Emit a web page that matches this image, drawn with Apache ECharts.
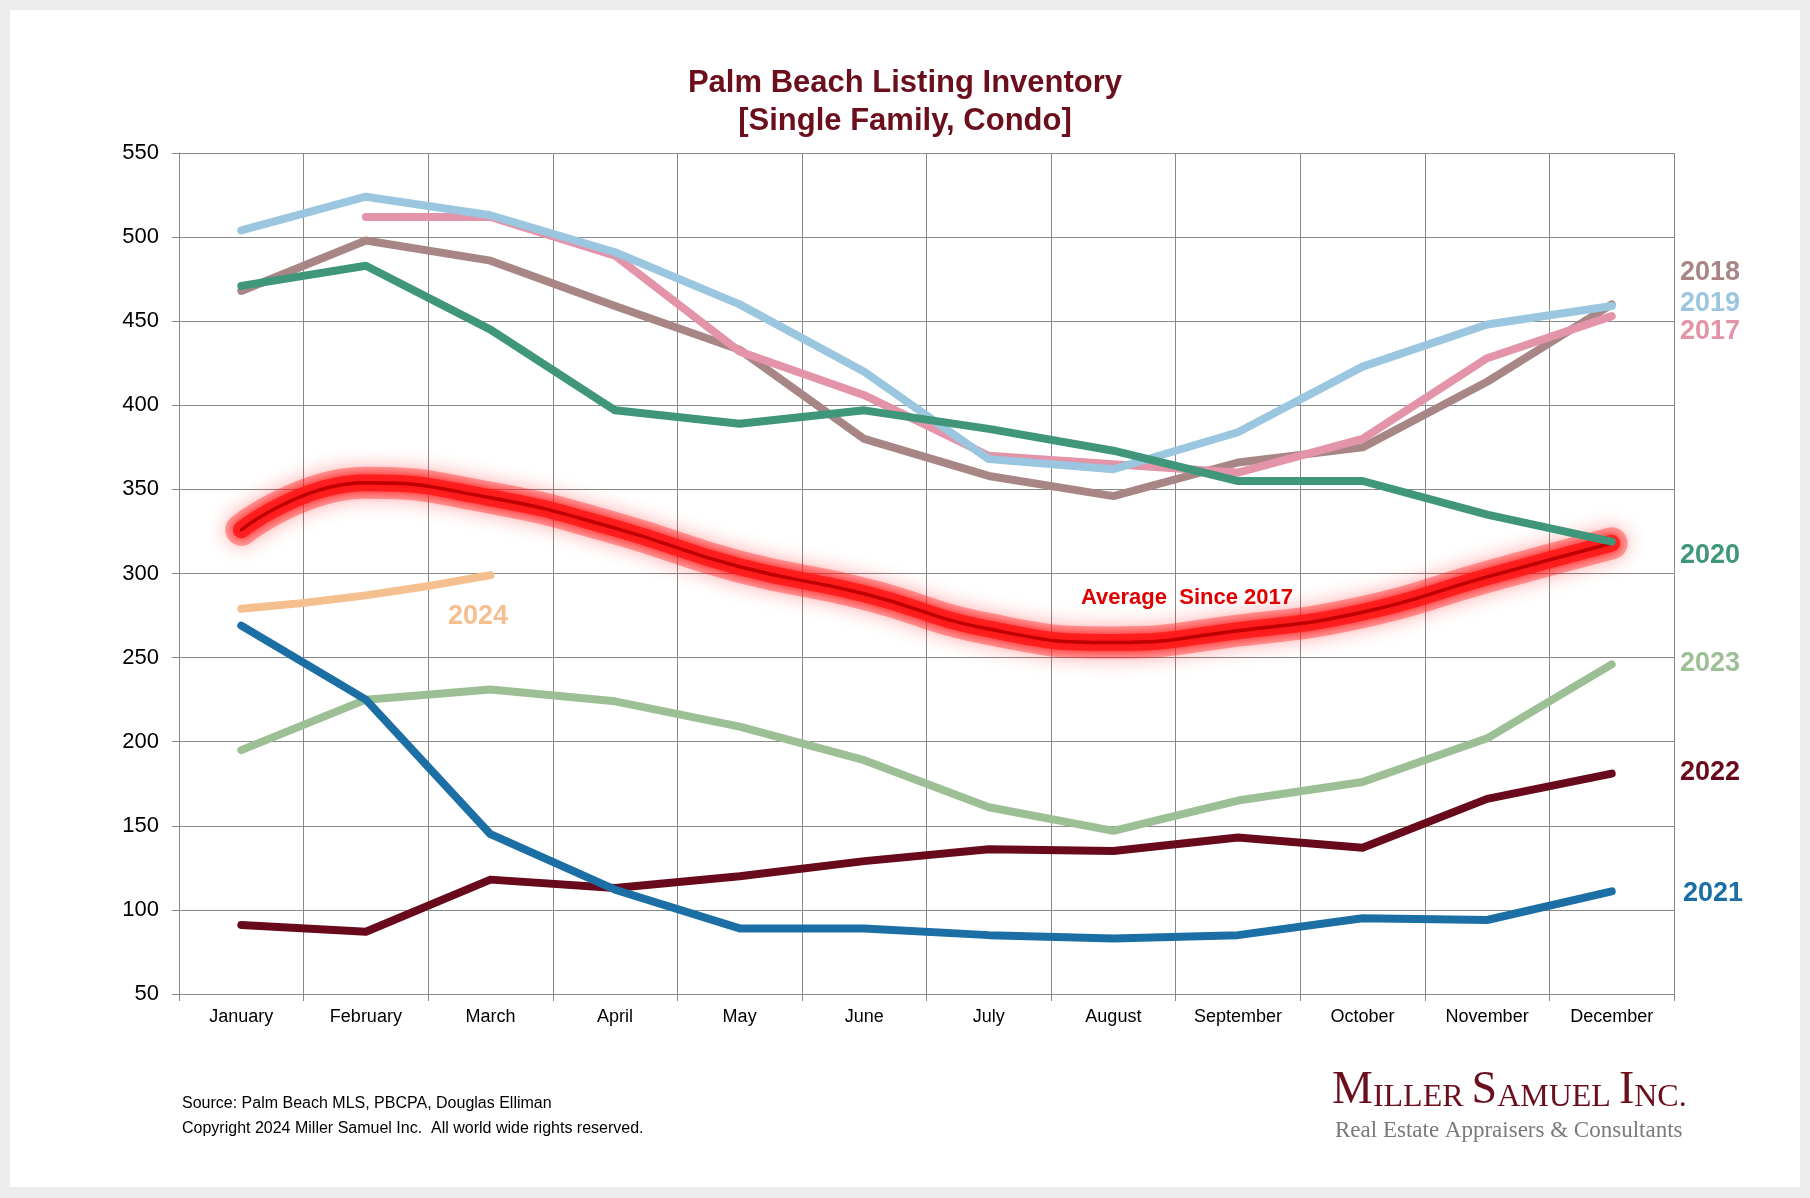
<!DOCTYPE html>
<html>
<head>
<meta charset="utf-8">
<script src="https://cdn.jsdelivr.net/npm/echarts@6/dist/echarts.min.js"></script>
<style>
html,body{margin:0;padding:0;background:#ececec;width:1810px;height:1198px;overflow:hidden;}
#paper{position:absolute;left:10px;top:10px;width:1790px;height:1177px;background:#fff;}
#chart{position:absolute;left:0;top:0;width:1810px;height:1198px;}
</style>
</head>
<body>
<div id="paper"></div>
<div id="chart"></div>
<script>
const months = ['January','February','March','April','May','June','July','August','September','October','November','December'];
const avgSince2017 = [326, 354, 345, 327, 304, 288, 267, 259, 266, 277, 298, 318];
const y2017 = [null, 512, 512, 489, 432, 406, 370, 365, 360, 380, 428, 453];
const y2018 = [468, 498, 486, 459, 433, 380, 358, 346, 366, 375, 414, 460];
const y2019 = [504, 524, 513, 491, 460, 420, 368, 362, 384, 423, 448, 459];
const y2020 = [471, 483, 445, 397, 389, 397, 386, 373, 355, 355, 335, 319];
const y2021 = [269, 225, 145, 112, 89, 89, 85, 83, 85, 95, 94, 111];
const y2022 = [91, 87, 118, 113, 120, 129, 136, 135, 143, 137, 166, 181];
const y2023 = [195, 225, 231, 224, 209, 189, 161, 147, 165, 176, 202, 246];
const y2024 = [279, 287, 299];

const chart = echarts.init(document.getElementById('chart'), null, {renderer:'canvas'});

function thick(name, data, color, smooth) {
  return {
    name: name, type: 'line', data: data, smooth: !!smooth, symbol: 'none',
    connectNulls: false,
    lineStyle: {width: 8, color: color, cap: 'round', join: 'round'},
    emphasis: {disabled: true}
  };
}

const font = 'Liberation Sans, Arial, sans-serif';
const serif = 'Liberation Serif, Times New Roman, serif';

const option = {
  backgroundColor: 'transparent',
  animation: false,
  title: {
    text: 'Palm Beach Listing Inventory\n[Single Family, Condo]',
    left: 'center', top: 59,
    textStyle: {fontFamily: font, fontWeight: 'bold', fontSize: 31, color: '#6b0f1c', lineHeight: 38}
  },
  grid: {left: 179, right: 136, top: 153, bottom: 204, containLabel: false},
  xAxis: {
    type: 'category', data: months, boundaryGap: true,
    axisLine: {lineStyle: {color: '#888', width: 1}},
    axisTick: {show: true, length: 7, lineStyle: {color: '#888'}},
    axisLabel: {fontFamily: font, fontSize: 18, color: '#000', margin: 14},
    splitLine: {show: true, lineStyle: {color: '#888', width: 1}}
  },
  yAxis: {
    type: 'value', min: 50, max: 550, interval: 50,
    axisLine: {show: true, lineStyle: {color: '#888', width: 1}},
    axisTick: {show: true, length: 7, lineStyle: {color: '#888'}},
    axisLabel: {fontFamily: font, fontSize: 22, color: '#000', margin: 20},
    splitLine: {show: true, lineStyle: {color: '#888', width: 1}}
  },
  series: [
    {
      name: 'avgGlowOuter', type: 'line', data: avgSince2017, smooth: true, symbol: 'none',
      lineStyle: {width: 32, color: 'rgba(255,50,50,0.42)', cap: 'round', join: 'round',
        shadowBlur: 20, shadowColor: 'rgba(255,0,0,0.75)'},
      emphasis: {disabled: true}
    },
    {
      name: 'avgGlow', type: 'line', data: avgSince2017, smooth: true, symbol: 'none',
      lineStyle: {width: 17, color: 'rgba(255,25,25,0.85)', cap: 'round', join: 'round',
        shadowBlur: 10, shadowColor: 'rgba(255,0,0,0.9)'},
      emphasis: {disabled: true}
    },
    {
      name: 'Average Since 2017', type: 'line', data: avgSince2017, smooth: true, symbol: 'none',
      lineStyle: {width: 3.5, color: '#c00000', cap: 'round'},
      emphasis: {disabled: true}
    },
    thick('2018', y2018, '#a88686'),
    thick('2017', y2017, '#e494a8'),
    thick('2019', y2019, '#9ac7df'),
    thick('2020', y2020, '#3f967a'),
    thick('2023', y2023, '#9dbf95'),
    thick('2022', y2022, '#680a1b'),
    thick('2021', y2021, '#1b6fa4'),
    thick('2024', y2024, '#f6bf8f', true)
  ],
  graphic: [
    {type:'text', left: 1680, top: 259, style:{text:'2018', fontFamily: font, fontWeight:'bold', fontSize: 27, fill:'#a88686'}},
    {type:'text', left: 1680, top: 290, style:{text:'2019', fontFamily: font, fontWeight:'bold', fontSize: 27, fill:'#9ac7df'}},
    {type:'text', left: 1680, top: 318, style:{text:'2017', fontFamily: font, fontWeight:'bold', fontSize: 27, fill:'#e494a8'}},
    {type:'text', left: 1680, top: 542, style:{text:'2020', fontFamily: font, fontWeight:'bold', fontSize: 27, fill:'#3f967a'}},
    {type:'text', left: 1680, top: 650, style:{text:'2023', fontFamily: font, fontWeight:'bold', fontSize: 27, fill:'#9dbf95'}},
    {type:'text', left: 1680, top: 759, style:{text:'2022', fontFamily: font, fontWeight:'bold', fontSize: 27, fill:'#680a1b'}},
    {type:'text', left: 1683, top: 880, style:{text:'2021', fontFamily: font, fontWeight:'bold', fontSize: 27, fill:'#1b6fa4'}},
    {type:'text', left: 448, top: 603, style:{text:'2024', fontFamily: font, fontWeight:'bold', fontSize: 27, fill:'#f6bf8f'}},
    {type:'text', left: 1081, top: 587, style:{text:'Average  Since 2017', fontFamily: font, fontWeight:'bold', fontSize: 22, fill:'#e00000'}},
    {type:'text', left: 182, top: 1096, style:{text:'Source: Palm Beach MLS, PBCPA, Douglas Elliman', fontFamily: font, fontSize: 16, fill:'#000'}},
    {type:'text', left: 182, top: 1121, style:{text:'Copyright 2024 Miller Samuel Inc.  All world wide rights reserved.', fontFamily: font, fontSize: 16, fill:'#000'}},
    {type:'text', left: 1332, top: 1068, style:{
      text:'{b|M}{s|ILLER }{b|S}{s|AMUEL }{b|I}{s|NC.}', fontFamily: serif, fill:'#6b0f1c',
      rich:{ b:{fontFamily: serif, fontSize: 46, fill:'#6b0f1c', verticalAlign:'bottom'},
             s:{fontFamily: serif, fontSize: 32, fill:'#6b0f1c', verticalAlign:'bottom'} }
    }},
    {type:'text', left: 1335, top: 1119, style:{text:'Real Estate Appraisers & Consultants', fontFamily: serif, fontSize: 23, fill:'#7a7a7a'}}
  ]
};
chart.setOption(option);
</script>
</body>
</html>
